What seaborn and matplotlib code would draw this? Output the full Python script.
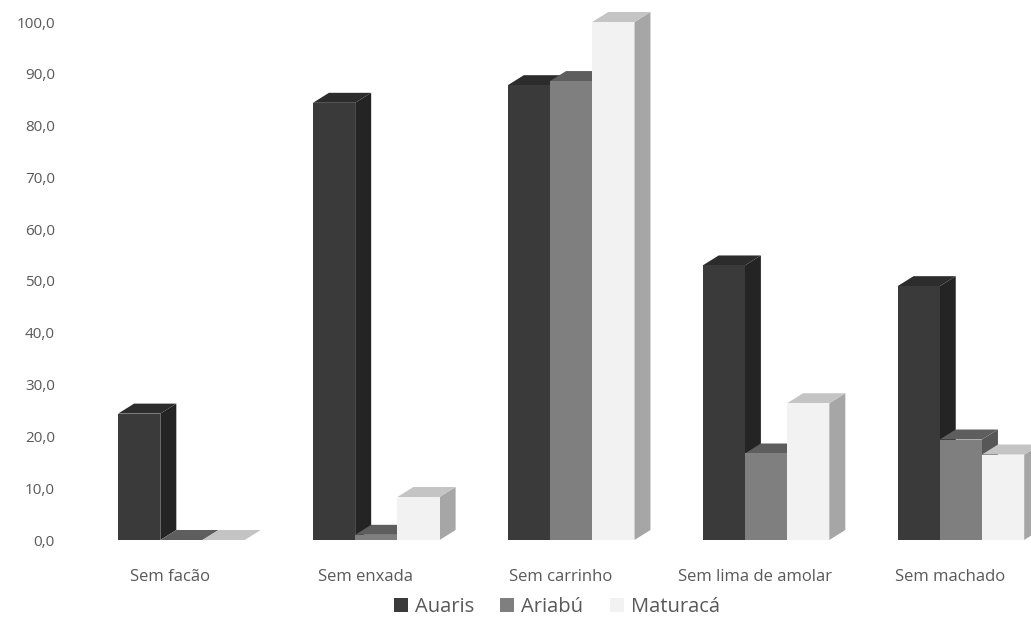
import numpy as np
import pandas as pd
import matplotlib
matplotlib.use("Agg")
import matplotlib.pyplot as plt
import matplotlib.transforms as mtransforms
from matplotlib.patches import Polygon, Patch
from matplotlib.ticker import FuncFormatter
import seaborn as sns

# data
categories = ["Sem facão", "Sem enxada", "Sem carrinho", "Sem lima de amolar", "Sem machado"]
series = ["Auaris", "Ariabú", "Maturacá"]
auaris = [24.4, 84.4, 87.8, 53.0, 49.0]
ariabu = [0.0, 1.0, 88.6, 16.7, 19.4]
maturaca = [0.0, 8.3, 100.0, 26.4, 16.5]

front_colors = ["#3a3a3a", "#7f7f7f", "#f2f2f2"]
top_colors = ["#2c2c2c", "#5e5e5e", "#c4c4c4"]
side_colors = ["#242424", "#575757", "#a6a6a6"]

df = pd.DataFrame({
    "categoria": categories * 3,
    "local": [s for s in series for _ in categories],
    "valor": auaris + ariabu + maturaca,
})

sns.set_theme(style="white")
plt.rcParams["font.family"] = ["Open Sans", "DejaVu Sans"]

fig = plt.figure(figsize=(10.31, 6.37), dpi=100)
ax = fig.add_axes([84 / 1031, (637 - 540) / 637, 1 - 84 / 1031, 535 / 637])

sns.barplot(data=df, x="categoria", y="valor", hue="local", hue_order=series,
            palette=front_colors, width=0.65, saturation=1, ax=ax,
            edgecolor="none", linewidth=0, legend=False)

ax.set_xlim(-0.5, 4.36)
ax.set_ylim(0, 100 * 535 / 518)

# pixel depth of the fake 3D faces, converted to data units
dx_px, dy_px = 16, 10
ax_w = fig.get_figwidth() * fig.dpi * ax.get_position().width
ax_h = fig.get_figheight() * fig.dpi * ax.get_position().height
dx = dx_px * (ax.get_xlim()[1] - ax.get_xlim()[0]) / ax_w
dy = dy_px * (ax.get_ylim()[1] - ax.get_ylim()[0]) / ax_h

for i, cont in enumerate(ax.containers):
    for bar in cont:
        x0 = bar.get_x()
        x1 = x0 + bar.get_width()
        h = bar.get_height()
        bar.set_zorder(3 + 2 * i)
        bar.set_clip_on(False)
        side = Polygon([(x1, 0), (x1 + dx, dy), (x1 + dx, h + dy), (x1, h)],
                       closed=True, facecolor=side_colors[i], edgecolor="none",
                       zorder=2 + 2 * i, clip_on=False)
        top = Polygon([(x0, h), (x1, h), (x1 + dx, h + dy), (x0 + dx, h + dy)],
                      closed=True, facecolor=top_colors[i], edgecolor="none",
                      zorder=2 + 2 * i, clip_on=False)
        ax.add_patch(side)
        ax.add_patch(top)

sns.despine(ax=ax, left=True, bottom=True)
ax.set_xlabel("")
ax.set_ylabel("")
ax.set_yticks(np.arange(0, 101, 10))
ax.yaxis.set_major_formatter(FuncFormatter(lambda v, p: f"{v:.1f}".replace(".", ",")))
ax.tick_params(axis="y", length=0, pad=21, labelsize=11, labelcolor="#595959")
ax.tick_params(axis="x", length=0, pad=21, labelsize=12, labelcolor="#595959")

# category labels sit slightly left of the front faces
shift = mtransforms.ScaledTranslation(-11 / 100, 0, fig.dpi_scale_trans)
for lab in ax.get_xticklabels():
    lab.set_transform(lab.get_transform() + shift)

handles = [Patch(facecolor=c, edgecolor="none", label=s) for c, s in zip(front_colors, series)]
fig.legend(handles=handles, loc="center", bbox_to_anchor=(0.54, 1 - 607 / 637), ncol=3,
           frameon=False, fontsize=14.5, handlelength=0.7, handleheight=0.7,
           handletextpad=0.35, columnspacing=1.3, labelcolor="#595959")

fig.savefig("out.png", dpi=100)
